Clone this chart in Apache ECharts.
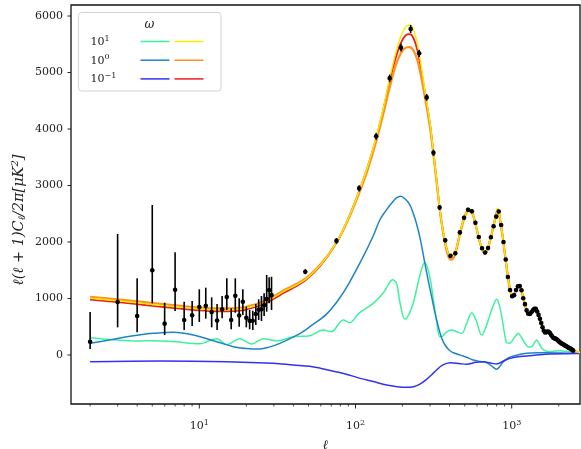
<!DOCTYPE html>
<html><head><meta charset="utf-8">
<script src="https://cdn.jsdelivr.net/npm/echarts@6/dist/echarts.min.js"></script>
<style>html,body{margin:0;padding:0;background:#fff}#c{width:581px;height:449px}</style>
</head><body><div id="c"></div>
<script>
// ---------- model curves (shared multipole samples for the autumn set) ----------
const mainEll = [2,3,4,5,7,10,13,15,18,20,25,30,35,40,48,60,76,90,106,120,135,150,165,180,195,210,222,235,250,265,280,300,315,330,345,360,375,390,405,420,435,450,465,480,495,510,530,545,560,575,590,605,620,640,660,675,690,705,720,735,750,765,780,795,810,825,840,855,870,885,900,915,930,945,960,975,990,1005,1020,1040,1060,1080,1100,1120,1140,1160,1180,1200,1230,1260,1290,1320,1350,1380,1410,1440,1470,1500,1530,1560,1600,1650,1700,1750,1800,1850,1900,1950,2000,2100,2200,2300,2400,2500,2600,2735];
const yellowD = [1005,960,925,895,855,815,800,800,810,830,910,1020,1130,1210,1340,1600,2005,2420,2920,3350,3840,4350,4880,5320,5640,5810,5840,5760,5480,5060,4640,4100,3600,3100,2620,2260,2000,1820,1740,1750,1820,1970,2150,2300,2430,2520,2580,2570,2510,2420,2290,2160,2040,1910,1830,1810,1840,1900,1990,2090,2190,2290,2390,2480,2600,2570,2450,2280,2150,2000,1840,1690,1540,1400,1270,1170,1090,1050,1040,1070,1130,1190,1225,1230,1195,1130,1040,950,840,760,720,730,770,810,830,810,750,690,610,530,450,400,405,390,345,305,290,270,245,200,165,130,100,75,60,45];
const orangeD = [1030,985,950,920,880,840,825,825,835,855,935,1040,1150,1230,1355,1610,2000,2400,2880,3290,3760,4250,4720,5110,5340,5440,5450,5390,5200,4880,4520,4030,3560,3080,2610,2240,1960,1770,1690,1705,1785,1945,2125,2275,2405,2495,2550,2545,2495,2410,2280,2150,2030,1900,1815,1795,1825,1890,1980,2080,2180,2280,2380,2460,2550,2530,2420,2270,2140,1990,1830,1680,1530,1390,1260,1160,1080,1040,1030,1060,1120,1180,1215,1220,1185,1120,1030,940,830,750,710,720,760,800,820,800,740,680,600,520,440,392,398,384,340,300,285,265,240,196,162,127,98,73,58,44];
const redD = [980,935,900,870,830,790,775,775,785,805,885,995,1105,1190,1325,1590,2000,2420,2915,3340,3820,4320,4830,5240,5520,5660,5680,5610,5370,4990,4600,4080,3590,3100,2620,2260,2000,1820,1740,1750,1820,1970,2150,2300,2430,2520,2575,2565,2510,2420,2290,2160,2040,1910,1830,1810,1840,1900,1990,2090,2190,2290,2390,2480,2575,2545,2430,2280,2150,2000,1840,1690,1540,1400,1270,1170,1090,1050,1040,1070,1130,1190,1225,1230,1195,1130,1040,950,840,760,720,730,770,810,830,810,750,690,610,530,450,400,405,390,345,305,290,270,245,200,165,130,100,75,60,45];

// ---------- model curves (winter set) ----------
const greenEll = [2,3,4,5,7,10,12.9,15,18.2,21.6,25.7,31.3,40,51,62,70,83.5,92,105,130,150,163,172,183,193,207,220,234,250,265,278,292,305,318,330,347,360,374,395,413,444,478,515,554,591,642,670,708,760,801,830,863,900,929,970,1015,1060,1102,1150,1216,1280,1342,1400,1445,1500,1556,1650,1759,1900,2038,2200,2363,2550,2735];
const greenD = [306,265,248,254,236,200,290,185,290,195,290,250,324,342,443,413,620,572,738,915,1092,1250,1330,1269,915,632,720,915,1250,1520,1640,1500,1250,900,600,324,330,384,430,443,413,384,561,749,620,354,430,620,870,986,900,678,380,218,210,265,340,384,320,207,140,147,220,265,200,118,70,59,70,77,65,59,45,30];
const blueEll = [2,2.7,3.43,4.2,5.08,6.82,9.15,12.9,16.5,20,24.5,28,32.8,38,44.3,51,65,77.6,90,112,130,143,157,170,183,195,208,223,238,252,265,278,292,307,322,339,355,374,400,423,455,489,530,567,630,692,750,801,840,883,950,1024,1120,1248,1450,1675,2100,2478,2735];
const blueD = [207,270,324,360,384,402,354,236,147,115,106,140,207,290,384,501,720,973,1250,1740,2110,2390,2560,2685,2780,2810,2760,2655,2450,2212,1930,1623,1320,1032,760,501,310,177,80,41,10,-18,-55,-88,-115,-136,-200,-253,-200,-118,-50,-18,10,30,40,41,35,30,30];
const navyEll = [2,5.6,15,29.8,40,51,65.5,85,107,130,158,185,211,235,260,285,310,330,360,403,460,515,590,659,730,801,880,975,1100,1248,1500,1759,2735];
const navyD = [-118,-106,-118,-147,-177,-200,-260,-330,-413,-470,-531,-560,-572,-560,-510,-430,-340,-266,-180,-136,-150,-165,-130,-118,-140,-159,-110,-59,-30,-18,5,18,25];

// ---------- measurements: unbinned low multipoles (asymmetric errors) ----------
const lowEll = [2,3,4,5,6,7,8,9,10,11,12,13,14,15,16,17,18,19,20,21,22,23,24,25,26,27,28,29];
const lowD   = [235,938,690,1499,555,1156,620,702,850,870,760,612,811,1027,620,1047,700,944,658,605,605,726,800,809,880,990,1150,1060];
const lowLo  = [106,490,401,915,354,779,443,513,584,643,490,443,649,797,455,749,501,708,490,455,443,531,620,602,690,767,915,797];
const lowHi  = [761,2142,1358,2655,926,1818,944,956,1163,1192,1021,903,1044,1357,826,1357,1003,1163,855,797,784,903,986,1044,1092,1416,1375,1386];

// ---------- measurements: binned high multipoles ----------
const binEll = [47.7,75.5,105.5,135.5,165.5,195.5,225.5,255.5,285.5,315.5,345.5,375.5,405.5,435.5,465.5,495.5,525.5,555.5,585.5,615.5,645.5,675.5,705.5,735.5,765.5,795.5,825.5,855.5,885.5,915.5,945.5,975.5,1005.5,1035.5,1065.5,1095.5,1125.5,1155.5,1185.5,1215.5,1245.5,1275.5,1305.5,1335.5,1365.5,1395.5,1425.5,1455.5,1485.5,1515.5,1545.5,1575.5,1605.5,1635.5,1665.5,1695.5,1725.5,1755.5,1785.5,1815.5,1845.5,1875.5,1905.5,1935.5,1965.5,1995.5,2025.5,2055.5,2085.5,2115.5,2145.5,2175.5,2205.5,2235.5,2265.5,2295.5,2325.5,2355.5,2385.5,2415.5,2445.5,2475.5];
const binD = [1474,2020,2950,3870,4900,5440,5770,5340,4560,3580,2610,2030,1755,1800,2170,2430,2570,2545,2340,2090,1890,1815,1895,2085,2280,2450,2540,2300,2000,1690,1380,1150,1040,1060,1150,1215,1220,1145,1005,900,790,730,725,755,790,820,820,770,710,640,565,490,430,400,405,415,410,390,360,330,305,295,290,280,265,245,230,215,205,195,185,175,165,155,145,135,125,120,110,100,90,80];
const binErr = [45,50,55,60,65,70,70,65,60,55,45,40,35,35,35,35,35,35,35,30,30,30,30,30,30,30,30,30,30,28,26,25,24,24,24,24,24,24,22,22,20,20,20,20,20,20,20,20,20,20,20,20,20,20,20,20,20,20,20,20,20,22,22,22,22,22,24,24,24,24,26,26,26,28,28,28,30,30,30,32,32,34];

// ---------- axes ----------
const X_MIN = 1.509, X_MAX = 2736, Y_MIN = -867, Y_MAX = 6195;
const yTicks = [0,1000,2000,3000,4000,5000,6000];
const xMajor = [10,100,1000];
const xMinor = [2,3,4,5,6,7,8,9,20,30,40,50,60,70,80,90,200,300,400,500,600,700,800,900,2000];
const legendExp = ['1', '0', '\u22121'];

const FONT = 'DejaVu Serif';
const TXT = '#222';
const zip = (a, b) => a.map((v, i) => [v, b[i]]);

const errData = [];
lowEll.forEach((l, i) => errData.push([l, lowD[i], lowLo[i], lowHi[i]]));
binEll.forEach((l, i) => errData.push([l, binD[i], binD[i] - binErr[i], binD[i] + binErr[i]]));

function lineSeries(name, ell, vals, color, width) {
  return {
    name, type: 'line', data: zip(ell, vals), showSymbol: false, smooth: 0.35,
    lineStyle: { color, width: width || 1.5 }, itemStyle: { color }, silent: true, animation: false
  };
}
// tick marks drawn through the axis scales (outward, matplotlib-style)
function tickSeries(data, dir, len, width) {
  return {
    type: 'custom', data, encode: { x: 0, y: 1 }, clip: false, silent: true, z: 5,
    renderItem: (params, api) => {
      const p = api.coord([api.value(0), api.value(1)]);
      const shape = dir === 'down'
        ? { x1: p[0], y1: p[1], x2: p[0], y2: p[1] + len }
        : { x1: p[0], y1: p[1], x2: p[0] - len, y2: p[1] };
      return { type: 'line', shape, style: { stroke: '#222', lineWidth: width } };
    }
  };
}

const supRich = {
  b: { fontFamily: FONT, fontSize: 11, color: TXT },
  s: { fontFamily: FONT, fontSize: 8, color: TXT, padding: [0, 0, 7, 0] }
};

const chart = echarts.init(document.getElementById('c'), null, { renderer: 'canvas' });
chart.setOption({
  animation: false,
  backgroundColor: '#fff',
  grid: { left: 71, right: 1, top: 5, bottom: 45, containLabel: false, outerBoundsMode: 'none',
          show: true, borderColor: '#111', borderWidth: 1.3, backgroundColor: 'transparent' },
  xAxis: {
    type: 'log', logBase: 10, min: X_MIN, max: X_MAX, position: 'bottom',
    axisLine: { show: false, onZero: false }, splitLine: { show: false }, minorTick: { show: false },
    axisTick: { show: false },
    axisLabel: {
      customValues: xMajor, margin: 15,
      formatter: v => '{b|10}{s|' + Math.round(Math.log10(v)) + '}',
      rich: supRich
    },
    name: '\u2113', nameLocation: 'middle', nameGap: 35,
    nameTextStyle: { fontFamily: FONT, fontSize: 13, color: TXT, fontStyle: 'italic' }
  },
  yAxis: {
    type: 'value', min: Y_MIN, max: Y_MAX,
    axisLine: { show: false, onZero: false }, splitLine: { show: false },
    axisTick: { show: false },
    axisLabel: { customValues: yTicks, margin: 8, fontFamily: FONT, fontSize: 11, color: TXT, formatter: v => String(v) }
  },
  series: [
    lineSeries('w10a', greenEll, greenD, '#3ef29c'),
    lineSeries('w1a', blueEll, blueD, '#1f84c6'),
    lineSeries('w01a', navyEll, navyD, '#3232f0'),
    lineSeries('w01b', mainEll, redD, '#f01c1c', 1.8),
    lineSeries('w1b', mainEll, orangeD, '#ff8f1f', 2.2),
    lineSeries('w10b', mainEll, yellowD, '#f6ec00', 1.4),
    {
      type: 'custom', data: errData, encode: { x: 0, y: 1 }, z: 10, silent: true,
      renderItem: (params, api) => {
        const x = api.value(0), y = api.value(1);
        const p = api.coord([x, y]);
        const pl = api.coord([x, api.value(2)]);
        const ph = api.coord([x, api.value(3)]);
        return {
          type: 'group', children: [
            { type: 'line', shape: { x1: p[0], y1: pl[1], x2: p[0], y2: ph[1] }, style: { stroke: '#000', lineWidth: 1.6 } },
            { type: 'circle', shape: { cx: p[0], cy: p[1], r: 2.3 }, style: { fill: '#000' } }
          ]
        };
      }
    },
    tickSeries(xMajor.map(v => [v, Y_MIN]), 'down', 4.5, 1),
    tickSeries(xMinor.map(v => [v, Y_MIN]), 'down', 2.5, 0.8),
    tickSeries(yTicks.map(v => [X_MIN, v]), 'left', 3.5, 1)
  ],
  graphic: [
    {
      type: 'text', x: 19, y: 220, rotation: Math.PI / 2,
      style: {
        text: '{i|\u2113(\u2113 + 1)C}{sub|\u2113}{i|/2\u03c0[\u03bcK}{sup|2}{i|]}',
        align: 'center', verticalAlign: 'middle',
        rich: {
          i: { fontFamily: FONT, fontSize: 14.5, fontStyle: 'italic', fill: TXT },
          sub: { fontFamily: FONT, fontSize: 10, fontStyle: 'italic', fill: TXT, padding: [6, 0, 0, 0] },
          sup: { fontFamily: FONT, fontSize: 10, fontStyle: 'italic', fill: TXT, padding: [0, 0, 8, 0] }
        }
      }
    },
    {
      type: 'group', left: 78, top: 12, z: 20,
      children: [
        { type: 'rect', shape: { x: 0, y: 0, width: 142.5, height: 78.5, r: 3 }, style: { fill: 'rgba(255,255,255,0.85)', stroke: '#d4d4d4', lineWidth: 1 } },
        { type: 'text', x: 71, y: 12, style: { text: '\u03c9', fontFamily: FONT, fontSize: 12, fontStyle: 'italic', fill: TXT, align: 'center', verticalAlign: 'middle' } },
        ...legendExp.map((e, i) => ({
          type: 'text', x: 12, y: 29.5 + i * 18.7,
          style: {
            text: '{b|10}{s|' + e + '}', align: 'left', verticalAlign: 'middle',
            rich: { b: { fontFamily: FONT, fontSize: 11, fill: TXT }, s: { fontFamily: FONT, fontSize: 8, fill: TXT, padding: [0, 0, 7, 0] } }
          }
        })),
        ...[['#3ef29c', '#f6ec00'], ['#1f84c6', '#ff8f1f'], ['#3232f0', '#f01c1c']].flatMap((c, i) => [
          { type: 'line', shape: { x1: 62, y1: 29 + i * 18.7, x2: 91, y2: 29 + i * 18.7 }, style: { stroke: c[0], lineWidth: 1.5 } },
          { type: 'line', shape: { x1: 96, y1: 29 + i * 18.7, x2: 125, y2: 29 + i * 18.7 }, style: { stroke: c[1], lineWidth: 1.5 } }
        ])
      ]
    }
  ]
});
</script></body></html>
